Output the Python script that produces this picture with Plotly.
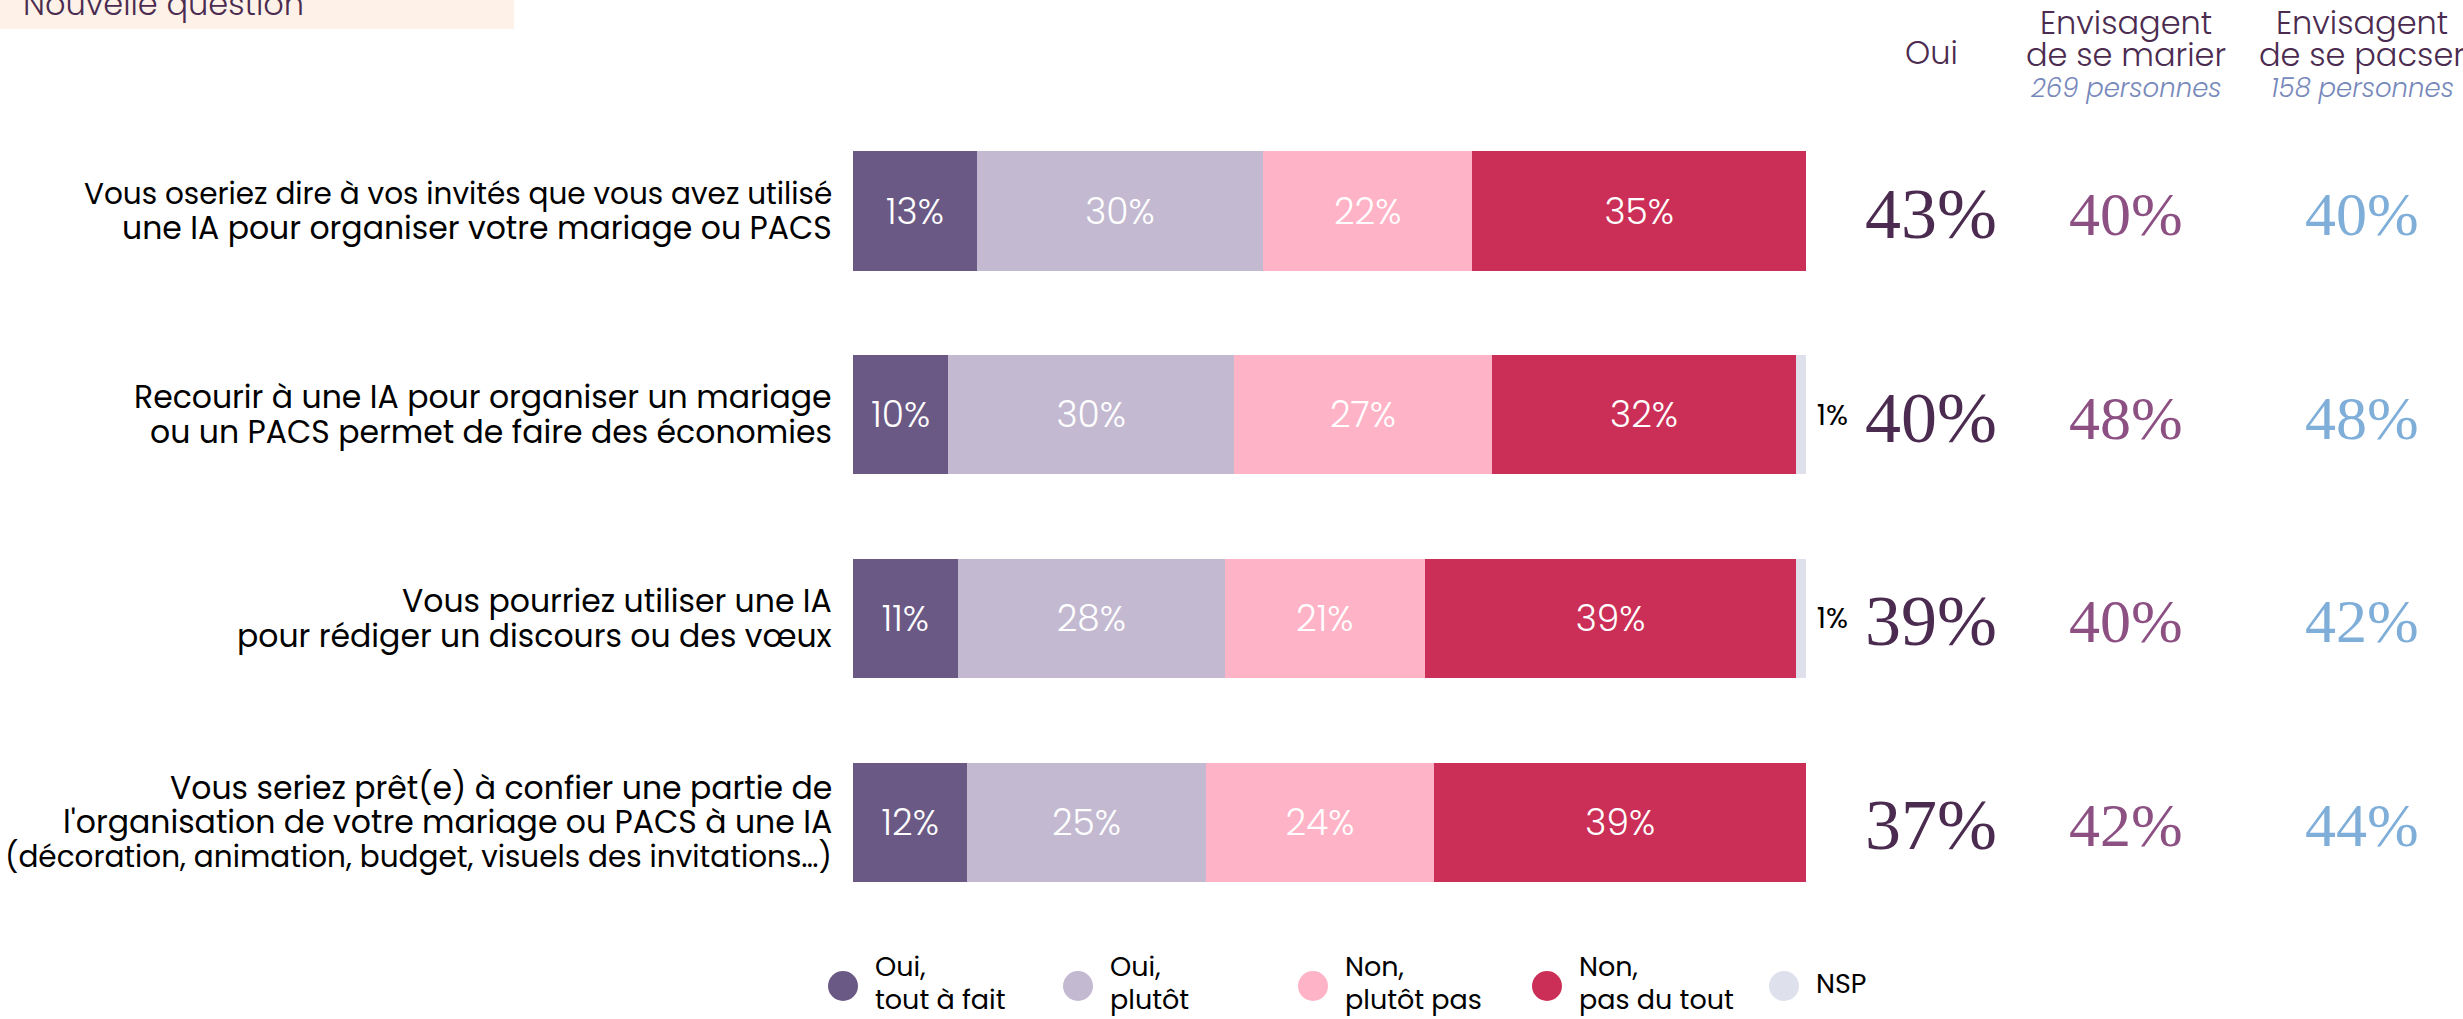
import plotly.graph_objects as go

W, H = 2463, 1019


def px(x):
    return x / W


def py(y):
    return 1 - y / H


question_lines = [
    ["Vous oseriez dire à vos invités que vous avez utilisé",
     "une IA pour organiser votre mariage ou PACS"],
    ["Recourir à une IA pour organiser un mariage",
     "ou un PACS permet de faire des économies"],
    ["Vous pourriez utiliser une IA",
     "pour rédiger un discours ou des vœux"],
    ["Vous seriez prêt(e) à confier une partie de",
     "l'organisation de votre mariage ou PACS à une IA",
     "(décoration, animation, budget, visuels des invitations…)"],
]
series_names = [["Oui,", "tout à fait"], ["Oui,", "plutôt"], ["Non,", "plutôt pas"],
                ["Non,", "pas du tout"], ["NSP"]]
oui_tout_a_fait = [13, 10, 11, 12]
oui_plutot = [30, 30, 28, 25]
non_plutot_pas = [22, 27, 21, 24]
non_pas_du_tout = [35, 32, 39, 39]
nsp = [0, 1, 1, 0]
total_oui = [43, 40, 39, 37]
envisagent_marier = [40, 48, 40, 42]
envisagent_pacser = [40, 48, 42, 44]
headers = [["Oui"], ["Envisagent", "de se marier"], ["Envisagent", "de se pacser"]]
header_counts = ["", "269 personnes", "158 personnes"]

colors = ["#6B5985", "#C3B9D1", "#FFB3C6", "#CB2F57", "#DEE0EC"]
SANS = "Poppins, Open Sans, sans-serif"
SERIF = "Liberation Serif, serif"

ycat = list(range(len(question_lines)))
fig = go.Figure()
series = [oui_tout_a_fait, oui_plutot, non_plutot_pas, non_pas_du_tout]
for name, vals, col in zip(series_names[:4], series, colors[:4]):
    fig.add_trace(go.Bar(
        y=ycat, x=vals, orientation="h", name=" ".join(name),
        marker=dict(color=col, line=dict(width=0)),
        text=[f"{v}%" for v in vals], textposition="inside",
        insidetextanchor="middle", constraintext="none",
        textfont=dict(family=SANS, size=36, color="white", weight=300),
        showlegend=False, hoverinfo="skip",
    ))
fig.add_trace(go.Bar(
    y=ycat, x=nsp, orientation="h", name="NSP",
    marker=dict(color=colors[4], line=dict(width=0)),
    text=[f" {v}%" if v else "" for v in nsp], textposition="outside",
    constraintext="none", cliponaxis=False,
    textfont=dict(family=SANS, size=29, color="black", weight=400),
    showlegend=False, hoverinfo="skip",
))

ann = []
# question labels (one annotation per line for tight line spacing)
QLS = 34.5
for i, lines in enumerate(question_lines):
    mid = (len(lines) - 1) / 2
    for k, t in enumerate(lines):
        fs = 29.5 if len(t) > 52 else 31.5
        ann.append(dict(x=px(833), xref="paper", y=i, yref="y", yshift=(mid - k) * QLS,
                        text=t, showarrow=False, xanchor="right", yanchor="middle", borderpad=0,
                        font=dict(family=SANS, size=fs, color="black", weight=400)))

col_x = [px(1931), px(2126), px(2362)]
col_vals = [total_oui, envisagent_marier, envisagent_pacser]
col_colors = ["#4B2B50", "#8C5083", "#7FAED9"]
col_sizes = [72, 62, 62]
for cx, vals, cc, cs in zip(col_x, col_vals, col_colors, col_sizes):
    for i, v in enumerate(vals):
        ann.append(dict(x=cx, xref="paper", y=i, yref="y", text=f"{v}%",
                        showarrow=False, xanchor="center", yanchor="middle", yshift=-3,
                        font=dict(family=SERIF, size=cs, color=cc)))

# headers
hdr_col = "#4B2B50"
for cx, lines, cnt in zip(col_x, headers, header_counts):
    ys = [52] if len(lines) == 1 else [22, 55]
    for t, yy in zip(lines, ys):
        ann.append(dict(x=cx, xref="paper", y=py(yy), yref="paper", text=t,
                        showarrow=False, xanchor="center", yanchor="middle", borderpad=0,
                        font=dict(family=SANS, size=32, color=hdr_col, weight=300)))
    if cnt:
        ann.append(dict(x=cx, xref="paper", y=py(88), yref="paper", text=f"<i>{cnt}</i>",
                        showarrow=False, xanchor="center", yanchor="middle", borderpad=0,
                        font=dict(family=SANS, size=26, color="#7788BB", weight=300)))

# top-left tag
shapes = [dict(type="rect", xref="paper", yref="paper", x0=0, x1=px(514),
               y0=py(29), y1=1.0, fillcolor="#FDF1E8", line=dict(width=0), layer="below")]
ann.append(dict(x=px(21), xref="paper", y=py(4), yref="paper", text="Nouvelle question",
                showarrow=False, xanchor="left", yanchor="middle",
                font=dict(family=SANS, size=32, color=hdr_col, weight=300)))

# legend
leg_cx = [843, 1078, 1313, 1547, 1784]
leg_cy = 986
r = 15
for cx, lines, col in zip(leg_cx, series_names, colors):
    shapes.append(dict(type="circle", xref="paper", yref="paper",
                       x0=px(cx - r), x1=px(cx + r),
                       y0=py(leg_cy + r), y1=py(leg_cy - r),
                       fillcolor=col, line=dict(width=0)))
    ys = [leg_cy - 3] if len(lines) == 1 else [leg_cy - 20, leg_cy + 13]
    for t, yy in zip(lines, ys):
        ann.append(dict(x=px(cx + 31), xref="paper", y=py(yy), yref="paper",
                        text=t, showarrow=False, xanchor="left", yanchor="middle", borderpad=0,
                        font=dict(family=SANS, size=27, color="black", weight=400)))

PPU = 203.7  # pixels per category step
top = -211 / PPU
fig.update_layout(
    width=W, height=H, margin=dict(l=0, r=0, t=0, b=0),
    barmode="stack", bargap=0.415,
    paper_bgcolor="white", plot_bgcolor="white",
    xaxis=dict(domain=[px(853), px(1806)], range=[0, 100], visible=False, fixedrange=True),
    yaxis=dict(domain=[0, 1], range=[top + H / PPU, top], visible=False, fixedrange=True),
    annotations=ann, shapes=shapes,
)
fig.write_html("out.html", config={"displayModeBar": False},
               post_script="document.body.style.margin='0';document.body.style.overflow='hidden';")
